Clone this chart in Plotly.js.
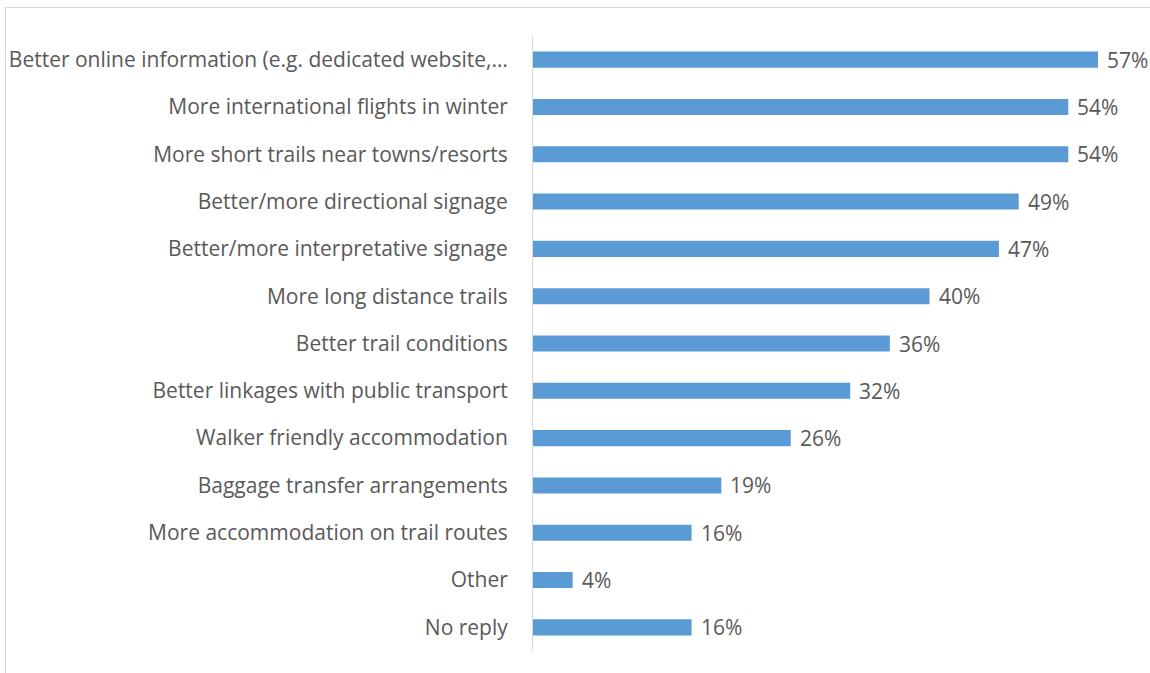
<!DOCTYPE html>
<html>
<head>
<meta charset="utf-8">
<script src="https://cdn.plot.ly/plotly-3.0.1.min.js"></script>
<style>
html,body{margin:0;padding:0;background:#fff;overflow:hidden;}
#frame{position:absolute;left:5px;top:7px;width:1200px;height:720px;border:1px solid #d9d9d9;box-sizing:border-box;}
#chart{position:absolute;left:0;top:0;width:1150px;height:673px;}
</style>
</head>
<body>
<div id="frame"></div>
<div id="chart"></div>
<script>
const categories = [
  "Better online information (e.g. dedicated website,…",
  "More international flights in winter",
  "More short trails near towns/resorts",
  "Better/more directional signage",
  "Better/more interpretative signage",
  "More long distance trails",
  "Better trail conditions",
  "Better linkages with public transport",
  "Walker friendly accommodation",
  "Baggage transfer arrangements",
  "More accommodation on trail routes",
  "Other",
  "No reply"
];
const values = [57, 54, 54, 49, 47, 40, 36, 32, 26, 19, 16, 4, 16];
const valueLabels = values.map(v => v + "%");

const fontFam = "'Open Sans', Lato, sans-serif";
const textColor = "#595959";

const trace = {
  type: "bar",
  orientation: "h",
  x: values,
  y: categories,
  marker: {color: "#5B9BD5"},
  hoverinfo: "skip"
};

const annotations = values.map((v, i) => ({
  x: v, y: categories[i], xref: "x", yref: "y",
  text: valueLabels[i], showarrow: false,
  xanchor: "left", xshift: 7,
  font: {family: fontFam, size: 21, color: textColor}
}));

const layout = {
  width: 1150, height: 673,
  paper_bgcolor: "rgba(0,0,0,0)",
  plot_bgcolor: "rgba(0,0,0,0)",
  margin: {l: 533, r: 50, t: 36, b: 22},
  bargap: 0.66,
  showlegend: false,
  xaxis: {range: [0, 57.2], visible: false, fixedrange: true},
  yaxis: {
    autorange: "reversed",
    showline: true, linecolor: "#d9d9d9", linewidth: 1,
    showgrid: false, zeroline: false,
    ticks: "", ticklabelstandoff: 20,
    tickfont: {family: fontFam, size: 21, color: textColor}
  },
  annotations: annotations
};

Plotly.newPlot("chart", [trace], layout, {displayModeBar: false, staticPlot: true});
</script>
</body>
</html>
